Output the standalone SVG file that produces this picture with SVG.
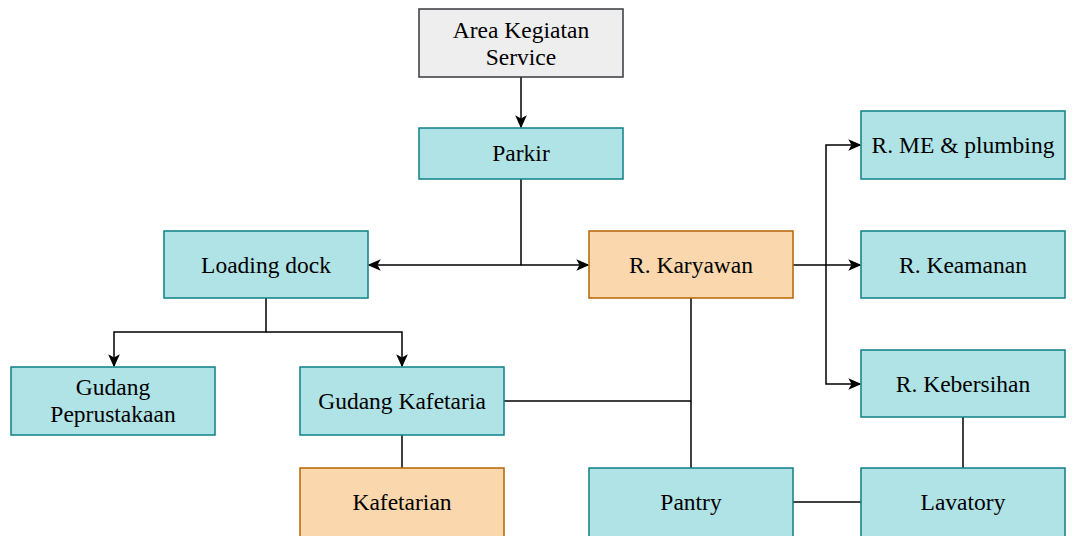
<svg xmlns="http://www.w3.org/2000/svg" width="1072" height="536" viewBox="0 0 1072 536">
<style>
.n rect{fill:#b0e3e6;stroke:#0e8088;stroke-width:1.5}
.n.o rect{fill:#fad7ac;stroke:#b46504}
.n.g rect{fill:#eeeeee;stroke:#36393d}
.n text{font-family:'Liberation Serif','Times New Roman','DejaVu Serif',serif;font-size:23.5px;fill:#000;text-anchor:middle}
.c path{fill:none;stroke:#000;stroke-width:1.5}
</style>
<defs>
<marker id="a" viewBox="0 0 10 10" refX="9" refY="5" markerWidth="13" markerHeight="13" markerUnits="userSpaceOnUse" orient="auto-start-reverse">
<path d="M0,0.5 L10,5 L0,9.5 L2.5,5 Z" fill="#000"/>
</marker>
</defs>
<rect width="1072" height="536" fill="#fff"/>
<g class="c">
<path d="M521,77 V127" marker-end="url(#a)"/>
<path d="M521,179 V265 H369" marker-end="url(#a)"/>
<path d="M521,265 H588" marker-end="url(#a)"/>
<path d="M266,298 V332 H114 V366" marker-end="url(#a)"/>
<path d="M266,332 H402 V366" marker-end="url(#a)"/>
<path d="M793,265 H860" marker-end="url(#a)"/>
<path d="M826,265 V145 H860" marker-end="url(#a)"/>
<path d="M826,265 V384 H860" marker-end="url(#a)"/>
<path d="M691,298 V468"/>
<path d="M504,401 H691"/>
<path d="M402,435 V468"/>
<path d="M963,417 V468"/>
<path d="M793,502 H861"/>
</g>
<g id="area" class="n g"><rect x="419" y="9" width="204" height="68"/><text x="521" y="38">Area Kegiatan</text><text x="521" y="65">Service</text></g>
<g id="parkir" class="n"><rect x="419" y="128" width="204" height="51"/><text x="521" y="161">Parkir</text></g>
<g id="loading" class="n"><rect x="164" y="231" width="204" height="67"/><text x="266" y="272.5">Loading dock</text></g>
<g id="karyawan" class="n o"><rect x="589" y="231" width="204" height="67"/><text x="691" y="272.5">R. Karyawan</text></g>
<g id="me" class="n"><rect x="861" y="111" width="204" height="68"/><text x="963" y="153">R. ME &amp; plumbing</text></g>
<g id="keamanan" class="n"><rect x="861" y="231" width="204" height="67"/><text x="963" y="272.5">R. Keamanan</text></g>
<g id="kebersihan" class="n"><rect x="861" y="350" width="204" height="67"/><text x="963" y="391.5">R. Kebersihan</text></g>
<g id="gperpus" class="n"><rect x="11" y="367" width="204" height="68"/><text x="113" y="395">Gudang</text><text x="113" y="422">Peprustakaan</text></g>
<g id="gkafe" class="n"><rect x="300" y="367" width="204" height="68"/><text x="402" y="408.5">Gudang Kafetaria</text></g>
<g id="kafetarian" class="n o"><rect x="300" y="468" width="204" height="80"/><text x="402" y="510">Kafetarian</text></g>
<g id="pantry" class="n"><rect x="589" y="468" width="204" height="80"/><text x="691" y="510">Pantry</text></g>
<g id="lavatory" class="n"><rect x="861" y="468" width="204" height="80"/><text x="963" y="510">Lavatory</text></g>
</svg>
